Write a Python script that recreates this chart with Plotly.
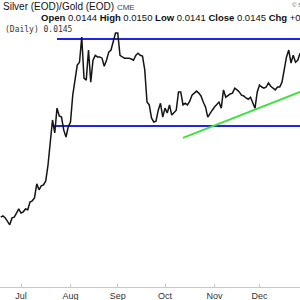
import pandas as pd
import plotly.graph_objects as go

# ---- data -------------------------------------------------------------
start_date = "2020-06-18"
holidays = ["2020-07-03", "2020-09-07", "2020-11-26", "2020-12-25", "2021-01-01"]
ratio = [
    0.00992, 0.00995, 0.00990, 0.00983, 0.00973, 0.00990, 0.00992, 0.01002, 0.01012,
    0.01002, 0.01005, 0.01012, 0.01010, 0.01029, 0.01032, 0.01039, 0.01074, 0.01059,
    0.01069, 0.01071, 0.01081, 0.01120, 0.01182, 0.01231, 0.01199, 0.01260, 0.01241,
    0.01238, 0.01206, 0.01189, 0.01214, 0.01226, 0.01292, 0.01334, 0.01366, 0.01373,
    0.01435, 0.01334, 0.01329, 0.01403, 0.01324, 0.01378, 0.01390, 0.01386, 0.01386,
    0.01383, 0.01363, 0.01378, 0.01398, 0.01403, 0.01427, 0.01445, 0.01445, 0.01390,
    0.01386, 0.01383, 0.01383, 0.01383, 0.01381, 0.01378, 0.01390, 0.01395, 0.01390,
    0.01388, 0.01354, 0.01275, 0.01268, 0.01236, 0.01226, 0.01228, 0.01255, 0.01272,
    0.01238, 0.01260, 0.01248, 0.01268, 0.01243, 0.01250, 0.01255, 0.01300, 0.01300,
    0.01268, 0.01272, 0.01268, 0.01277, 0.01292, 0.01297, 0.01302, 0.01297, 0.01290,
    0.01275, 0.01263, 0.01238, 0.01248, 0.01255, 0.01263, 0.01268, 0.01275, 0.01260,
    0.01305, 0.01287, 0.01292, 0.01295, 0.01297, 0.01309, 0.01305, 0.01300, 0.01292,
    0.01290, 0.01285, 0.01282, 0.01287, 0.01275, 0.01260, 0.01300, 0.01317, 0.01312,
    0.01309, 0.01312, 0.01322, 0.01314, 0.01309, 0.01305, 0.01312, 0.01312, 0.01324,
    0.01354, 0.01386, 0.01403, 0.01371, 0.01390, 0.01373, 0.01378, 0.01395,
]
resistance_level = 0.01430
resistance_dates = ["2020-07-24", "2021-01-15"]
support_level = 0.01216
support_dates = ["2020-07-22", "2021-01-15"]
trend_dates = ["2020-10-13", "2020-12-28"]
trend_values = [0.01187, 0.01300]
tick_dates = ["2020-07-01", "2020-08-03", "2020-09-01", "2020-10-01", "2020-11-02", "2020-12-01"]
tick_labels = ["Jul", "Aug", "Sep", "Oct", "Nov", "Dec"]
x_range = ["2020-06-17 16:00", "2020-12-28"]
y_range = [0.00820, 0.01472]

# ---- figure -------------------------------------------------------------
bday = pd.offsets.CustomBusinessDay(holidays=holidays)
dates = pd.date_range(start=start_date, periods=len(ratio), freq=bday)

fig = go.Figure()
fig.add_trace(go.Scatter(x=[resistance_dates[0], resistance_dates[1]],
                         y=[resistance_level, resistance_level], mode="lines",
                         line=dict(color="#2323e6", width=2), hoverinfo="skip"))
fig.add_trace(go.Scatter(x=[support_dates[0], support_dates[1]],
                         y=[support_level, support_level], mode="lines",
                         line=dict(color="#2323e6", width=2), hoverinfo="skip"))
fig.add_trace(go.Scatter(x=trend_dates, y=trend_values, mode="lines",
                         line=dict(color="#40e040", width=2), hoverinfo="skip"))
fig.add_trace(go.Scatter(x=dates, y=ratio, mode="lines",
                         line=dict(color="#151515", width=1.5)))

PT, PB = 22, 13
H = 300 - PT - PB


def py(px):
    return 1 + (PT - px) / H


fig.update_layout(
    width=300, height=300,
    margin=dict(l=0, r=0, t=PT, b=PB, pad=0),
    paper_bgcolor="white", plot_bgcolor="white",
    showlegend=False,
    font=dict(family="Liberation Sans Narrow, Arial, sans-serif", color="#222"),
    xaxis=dict(
        type="date", range=x_range,
        rangebreaks=[dict(bounds=["sat", "mon"]), dict(values=holidays)],
        tickvals=tick_dates, ticktext=tick_labels,
        ticks="inside", ticklen=3, tickcolor="#c8c8c8",
        showline=True, linecolor="#c8c8c8", linewidth=1,
        showgrid=False, zeroline=False,
        tickfont=dict(family="Liberation Sans, Arial, sans-serif", size=9, color="#333"),
    ),
    yaxis=dict(range=y_range, visible=False),
)

ann = [
    dict(x=1, y=py(6), text="Silver (EOD)/Gold (EOD) <span style='font-size:8px;color:#444'>CME</span>",
         size=10),
    dict(x=39, y=py(17),
         text="<b>Open</b> 0.0144 <b>High</b> 0.0150 <b>Low</b> 0.0141 <b>Close</b> 0.0145 <b>Chg</b> +0.0001 (+0.69%)",
         size=9.5),
]
for a in ann:
    fig.add_annotation(x=a["x"] / 300, y=a["y"], xref="paper", yref="paper",
                       xanchor="left", yanchor="middle", showarrow=False,
                       text=a["text"], font=dict(size=a["size"], color="#111"))
fig.add_annotation(x=290 / 300, y=py(5), xref="paper", yref="paper",
                   xanchor="left", yanchor="middle", showarrow=False,
                   text="© StockCharts.com",
                   font=dict(family="Liberation Sans, Arial", size=6, color="#666"))
fig.add_annotation(x=3 / 300, y=py(29), xref="paper", yref="paper",
                   xanchor="left", yanchor="middle", showarrow=False,
                   text="(Daily) 0.0145",
                   font=dict(family="DejaVu Sans Mono, monospace", size=8, color="#333"))

fig.write_html("out.html", config={"displayModeBar": False})
